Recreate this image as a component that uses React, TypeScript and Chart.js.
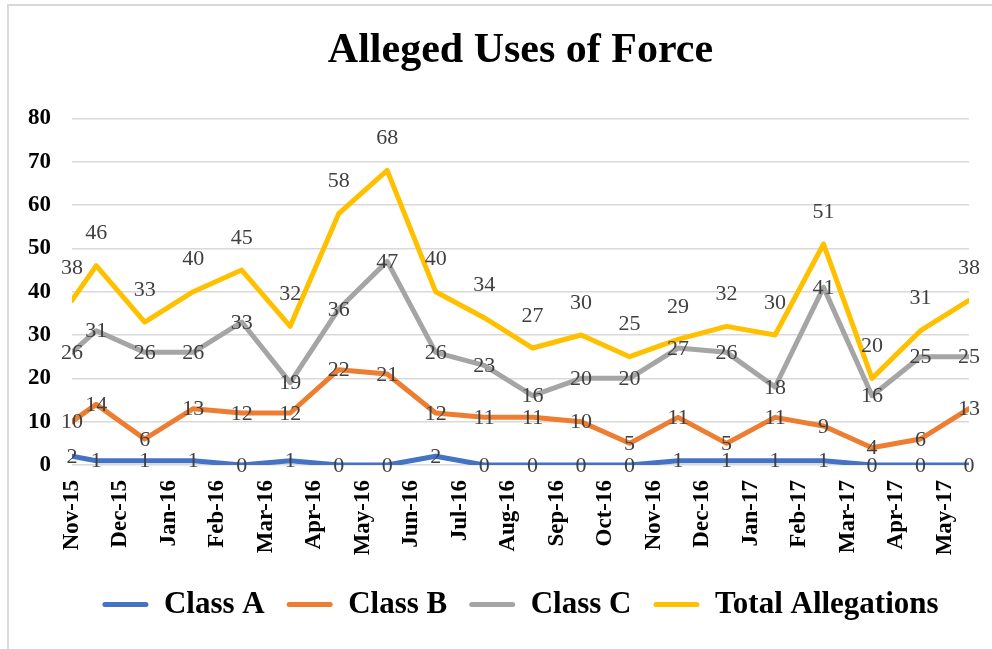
import React, { useEffect, useRef } from "react";
import { Chart, registerables } from "chart.js";

Chart.register(...registerables);

// Month tick labels along the x axis
const monthLabels = [
  "Nov-15", "Dec-15", "Jan-16", "Feb-16", "Mar-16", "Apr-16", "May-16", "Jun-16",
  "Jul-16", "Aug-16", "Sep-16", "Oct-16", "Nov-16", "Dec-16", "Jan-17", "Feb-17",
  "Mar-17", "Apr-17", "May-17",
];

// Reporting dates, in months after Nov-15
const reportMonths = [
  0, 0.5, 1.5, 2.5, 3.5, 4.5, 5.5, 6.5, 7.5, 8.5, 9.5, 10.5, 11.5, 12.5, 13.5,
  14.5, 15.5, 16.5, 17.5, 18.5,
];

const classA = [2, 1, 1, 1, 0, 1, 0, 0, 2, 0, 0, 0, 0, 1, 1, 1, 1, 0, 0, 0];
const classB = [10, 14, 6, 13, 12, 12, 22, 21, 12, 11, 11, 10, 5, 11, 5, 11, 9, 4, 6, 13];
const classC = [26, 31, 26, 26, 33, 19, 36, 47, 26, 23, 16, 20, 20, 27, 26, 18, 41, 16, 25, 25];
const totalAllegations = [38, 46, 33, 40, 45, 32, 58, 68, 40, 34, 27, 30, 25, 29, 32, 30, 51, 20, 31, 38];

const SERIF = "'Liberation Serif', 'Times New Roman', serif";

const toPoints = (vals: number[]) => vals.map((y, i) => ({ x: reportMonths[i], y }));

const valueLabels = {
  id: "valueLabels",
  afterDatasetsDraw(chart: any) {
    const ctx = chart.ctx;
    ctx.save();
    ctx.font = `22px ${SERIF}`;
    ctx.fillStyle = "#404040";
    ctx.textAlign = "center";
    ctx.textBaseline = "middle";
    chart.data.datasets.forEach((ds: any, di: number) => {
      const meta = chart.getDatasetMeta(di);
      const dy = ds.labelOffset ?? 0;
      meta.data.forEach((el: any, i: number) => {
        ctx.fillText(String(ds.data[i].y), el.x, el.y + dy);
      });
    });
    ctx.restore();
  },
};

export default function App() {
  const canvasRef = useRef<HTMLCanvasElement | null>(null);

  useEffect(() => {
    document.body.style.margin = "0";
    document.body.style.overflow = "hidden";
    document.body.style.background = "#ffffff";
    const canvas = canvasRef.current;
    if (!canvas) return;
    const line = (label: string, data: number[], color: string, order: number, labelOffset: number) => ({
      label,
      data: toPoints(data),
      borderColor: color,
      backgroundColor: color,
      borderWidth: 5,
      pointRadius: 0,
      tension: 0,
      borderJoinStyle: "round",
      borderCapStyle: "round",
      order,
      labelOffset,
    });
    const chart = new Chart(canvas, {
      type: "line",
      data: {
        datasets: [
          line("Class A", classA, "#4472C4", 3, 1),
          line("Class B", classB, "#ED7D31", 2, 1),
          line("Class C", classC, "#A5A5A5", 1, 1),
          line("Total Allegations", totalAllegations, "#FFC000", 0, -32),
        ] as any,
      },
      options: {
        animation: false,
        responsive: false,
        devicePixelRatio: 1,
        layout: { padding: { left: 28, right: 23, top: 8, bottom: 19 } },
        plugins: {
          title: {
            display: true,
            fullSize: false,
            text: "Alleged Uses of Force",
            color: "#000000",
            font: { family: SERIF, size: 42, weight: "bold" },
            padding: { top: 18, bottom: 42 },
          },
          legend: {
            position: "bottom",
            fullSize: false,
            labels: {
              color: "#000000",
              font: { family: SERIF, size: 31, weight: "bold" },
              boxWidth: 46,
              boxHeight: 5,
              padding: 22,
              useBorderRadius: true,
              borderRadius: 2.5,
              sort: (a: any, b: any) => a.datasetIndex - b.datasetIndex,
              generateLabels: (ch: any) =>
                Chart.defaults.plugins.legend.labels
                  .generateLabels(ch)
                  .map((l: any) => ({ ...l, lineWidth: 0 })),
            },
          },
          tooltip: { enabled: false },
        },
        scales: {
          x: {
            type: "linear",
            min: 0,
            max: 18.5,
            afterBuildTicks: (axis: any) => {
              axis.ticks = monthLabels.map((_, i) => ({ value: i }));
            },
            afterFit: (axis: any) => {
              axis.height = 102;
            },
            ticks: {
              autoSkip: false,
              minRotation: 90,
              maxRotation: 90,
              padding: 15,
              color: "#000000",
              font: { family: SERIF, size: 23, weight: "bold" },
              callback: (_v: any, index: number) => monthLabels[index],
            },
            grid: { display: false, drawTicks: false },
            border: { display: false },
          },
          y: {
            min: 0,
            max: 80,
            afterFit: (axis: any) => {
              axis.width = 44;
            },
            ticks: {
              stepSize: 10,
              padding: 21,
              color: "#000000",
              font: { family: SERIF, size: 23, weight: "bold" },
            },
            grid: { color: "#d9d9d9", lineWidth: 1.5, drawTicks: false },
            border: { display: false },
          },
        },
      },
      plugins: [valueLabels],
    });
    return () => chart.destroy();
  }, []);

  return (
    <div style={{ position: "relative", width: 992, height: 649, overflow: "hidden" }}>
      <div
        style={{
          position: "absolute",
          left: 7,
          top: 4,
          width: 1100,
          height: 700,
          border: "2px solid #d9d9d9",
        }}
      />
      <canvas ref={canvasRef} width={992} height={649} style={{ position: "absolute", left: 0, top: 0 }} />
    </div>
  );
}
